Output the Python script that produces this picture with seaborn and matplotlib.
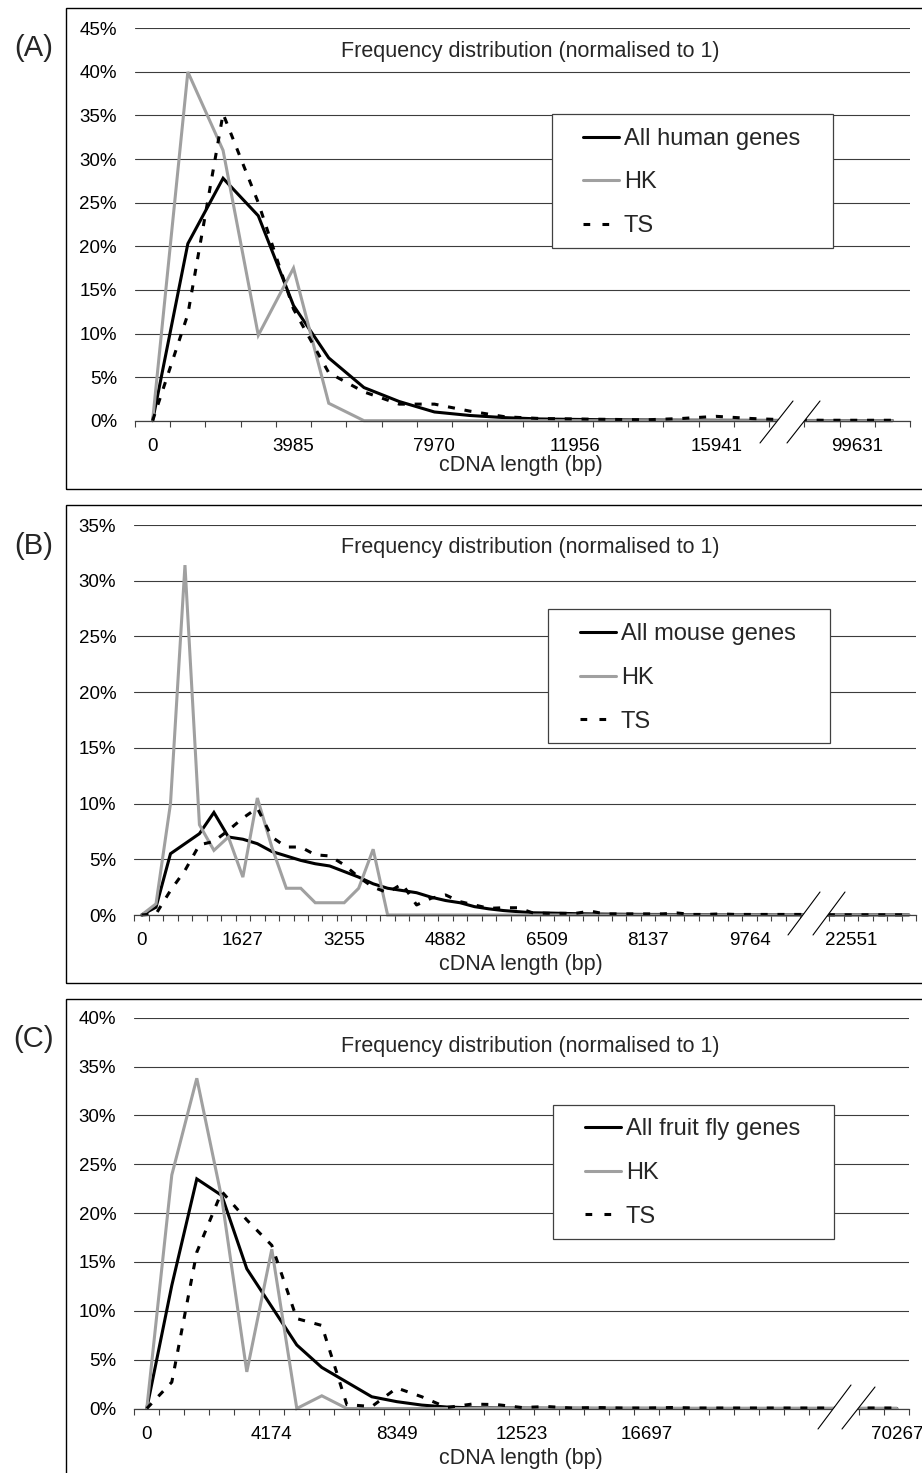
import matplotlib
matplotlib.use("Agg")
import matplotlib.pyplot as plt
import seaborn as sns
import pandas as pd
import numpy as np
from matplotlib.patches import Rectangle, Polygon
from matplotlib.lines import Line2D

# ---------------- data (percent of genes per cDNA-length bin) ----------------
A_tick_bins = [0, 4, 8, 12, 16, 20]
A_tick_labels = ["0", "3985", "7970", "11956", "15941", "99631"]
A_all = [0, 20.3, 27.8, 23.5, 13.2, 7.2, 3.8, 2.2, 1.0, 0.6, 0.35, 0.2, 0.15, 0.1,
         0.08, 0.06, 0.05, 0.04, 0.03, 0.02, 0.02, 0.01]
A_hk = [0, 40.0, 31.0, 9.8, 17.5, 2.0, 0, 0, 0, 0, 0, 0, 0, 0, 0, 0, 0, 0, 0, 0, 0, 0]
A_ts = [0, 12.2, 35.2, 25.0, 12.8, 5.5, 3.3, 1.9, 1.9, 1.1, 0.45, 0.25, 0.2, 0.15,
        0.1, 0.25, 0.5, 0.25, 0.1, 0.05, 0.05, 0.05]

B_tick_bins = [0, 7, 14, 21, 28, 35, 42, 49]
B_tick_labels = ["0", "1627", "3255", "4882", "6509", "8137", "9764", "22551"]
B_all = [0, 0.7, 5.5, 6.4, 7.3, 9.2, 7.0, 6.8, 6.4, 5.7, 5.3, 4.9, 4.6, 4.4, 3.9, 3.4,
         2.8, 2.4, 2.2, 2.0, 1.6, 1.3, 1.1, 0.75, 0.55, 0.4, 0.3, 0.2, 0.18, 0.15, 0.12,
         0.1, 0.08, 0.07, 0.06, 0.05, 0.05, 0.04, 0.03, 0.03, 0.02, 0.02, 0.02, 0.02,
         0.01, 0.01, 0.01, 0.01, 0.01, 0.01, 0.01, 0.01, 0.01, 0.01]
B_hk = [0, 1.0, 10.0, 31.4, 8.1, 5.8, 7.0, 3.4, 10.5, 6.1, 2.4, 2.4, 1.1, 1.1, 1.1, 2.4,
        5.9, 0, 0, 0, 0, 0, 0, 0, 0, 0, 0, 0, 0, 0, 0, 0, 0, 0, 0, 0, 0, 0, 0, 0, 0,
        0, 0, 0, 0, 0, 0, 0, 0, 0, 0, 0, 0, 0]
B_ts = [0, 0.1, 2.2, 4.0, 6.3, 6.6, 7.6, 8.7, 9.6, 7.0, 6.1, 6.1, 5.4, 5.3, 4.5, 3.4,
        2.5, 2.0, 2.8, 0.9, 1.5, 1.8, 1.2, 0.9, 0.6, 0.65, 0.65, 0.2, 0.15, 0.15, 0.15,
        0.35, 0.1, 0.1, 0.1, 0.1, 0.1, 0.18, 0.05, 0.05, 0.1, 0.05, 0.05, 0.05, 0.05,
        0.05, 0.05, 0.02, 0.02, 0.02, 0.02, 0.02, 0.02, 0.02]

C_tick_bins = [0, 5, 10, 15, 20, 30]
C_tick_labels = ["0", "4174", "8349", "12523", "16697", "70267"]
C_all = [0, 12.6, 23.5, 21.8, 14.3, 10.4, 6.5, 4.2, 2.7, 1.2, 0.7, 0.35, 0.15, 0.07,
         0.05, 0.04, 0.03, 0.03, 0.02, 0.02, 0.02, 0.01, 0.01, 0.01, 0.01, 0.01, 0.01,
         0.01, 0.01, 0.01, 0.01]
C_hk = [0, 23.9, 33.8, 21.5, 3.75, 16.3, 0, 1.3, 0, 0, 0, 0, 0, 0, 0, 0, 0, 0, 0, 0,
        0, 0, 0, 0, 0, 0, 0, 0, 0, 0, 0]
C_ts = [0, 2.7, 16.0, 22.2, 19.3, 16.7, 9.2, 8.5, 0.4, 0.2, 2.1, 1.2, 0.1, 0.45, 0.4,
        0.1, 0.2, 0.05, 0.1, 0.05, 0.05, 0.1, 0.05, 0.05, 0.05, 0.05, 0.05, 0.05, 0.05,
        0.05, 0.05]

A_names = ["All human genes", "HK", "TS"]
B_names = ["All mouse genes", "HK", "TS"]
C_names = ["All fruit fly genes", "HK", "TS"]

TITLE = "Frequency distribution (normalised to 1)"
XLABEL = "cDNA length (bp)"

# ---------------- style ----------------
sns.set_theme(style="white")
plt.rcParams["font.family"] = ["Liberation Sans", "DejaVu Sans"]

W, H = 922, 1473
fig = plt.figure(figsize=(W / 100, H / 100), dpi=100)


def fx(px):
    return px / W


def fy(py):
    return 1 - py / H


GRID = "#3c3c3c"
LW = 2.2
DASH = (2.3, 3.2)
LEG_DASH = (2.2, 4.0)
GRAY = "#a0a0a0"


def panel(letter, box, plot, all_v, hk_v, ts_v, names, tick_bins, tick_labels, ymax,
          legend_box, handle_x, legend_cy, title_base, xlabel_base, brk, label_cy):
    left, right, top, bottom = plot
    ax = fig.add_axes([fx(left), fy(bottom), (right - left) / W, (bottom - top) / H])
    n = len(all_v)
    df = pd.DataFrame({
        "bin": list(range(n)) + list(range(n)) + list(range(n)),
        "pct": list(all_v) + list(hk_v) + list(ts_v),
        "series": [names[0]] * n + [names[1]] * n + [names[2]] * n,
    })
    pal = {names[0]: "black", names[1]: GRAY, names[2]: "black"}
    dsh = {names[0]: "", names[1]: "", names[2]: DASH}
    sns.lineplot(data=df, x="bin", y="pct", hue="series", style="series",
                 hue_order=names, style_order=names, palette=pal, dashes=dsh,
                 linewidth=LW, errorbar=None, legend=False, ax=ax)
    for ln in ax.lines:
        ln.set_clip_on(False)
        ln.set_solid_joinstyle("miter")
        ln.set_dash_capstyle("butt")
    ax.set_xlim(-0.5, n - 0.5)
    ax.set_ylim(0, ymax)
    ax.set_xlabel("")
    ax.set_ylabel("")
    yt = list(range(0, ymax + 1, 5))
    ax.set_yticks(yt)
    ax.set_yticklabels([f"{v}%" for v in yt], fontsize=13.5)
    ax.yaxis.grid(True, color=GRID, lw=0.8)
    ax.xaxis.grid(False)
    ax.set_axisbelow(True)
    for s in ("left", "top", "right"):
        ax.spines[s].set_visible(False)
    ax.spines["bottom"].set_color("#404040")
    ax.spines["bottom"].set_linewidth(0.9)
    ax.tick_params(axis="y", length=0, pad=13, labelcolor="black")
    # category boundaries as tick marks, labels at category centres
    ax.set_xticks(np.arange(n + 1) - 0.5)
    ax.set_xticklabels([])
    ax.set_xticks(tick_bins, minor=True)
    ax.set_xticklabels(tick_labels, minor=True, fontsize=13.5)
    ax.tick_params(axis="x", which="major", length=4.3, width=0.8, color="#404040",
                   direction="out", bottom=True)
    ax.tick_params(axis="x", which="minor", length=0, pad=12.5, labelcolor="black",
                   bottom=True)

    # axis break
    (s1a, s1b), (s2a, s2b) = brk
    poly = Polygon([fig.transFigure.transform((fx(p[0]), fy(p[1]))) for p in (s1a, s1b, s2b, s2a)],
                   closed=True, facecolor="white", edgecolor="none", zorder=10,
                   transform=None, clip_on=False)
    ax.add_artist(poly)
    for a, b in ((s1a, s1b), (s2a, s2b)):
        ax.add_artist(Line2D([fx(a[0]), fx(b[0])], [fy(a[1]), fy(b[1])],
                             transform=fig.transFigure, color="black", lw=0.8,
                             zorder=11, clip_on=False))

    # legend box and legend
    x0, y0, x1, y1 = legend_box
    ax.add_patch(Rectangle((fx(x0), fy(y1)), (x1 - x0) / W, (y1 - y0) / H,
                           transform=fig.transFigure, facecolor="white",
                           edgecolor="#404040", lw=0.9, zorder=4, clip_on=False))
    handles = [Line2D([], [], color="black", lw=LW),
               Line2D([], [], color=GRAY, lw=LW),
               Line2D([], [], color="black", lw=LW, linestyle=(0, LEG_DASH),
                      dash_capstyle="butt")]
    ax.legend(handles, names, loc="center left",
              bbox_to_anchor=(fx(handle_x), fy(legend_cy)),
              bbox_transform=fig.transFigure, frameon=False, fontsize=17,
              handlelength=1.52, handletextpad=0.21, labelspacing=0.92,
              borderpad=0, borderaxespad=0)

    # texts and frame
    fig.text(fx(341), fy(title_base), TITLE, ha="left", va="baseline", fontsize=15.5)
    fig.text(fx(521), fy(xlabel_base), XLABEL, ha="center", va="baseline", fontsize=15.5)
    bx0, by0, bx1, by1 = box
    fig.add_artist(Rectangle((fx(bx0), fy(by1)), (bx1 - bx0) / W, (by1 - by0) / H,
                             transform=fig.transFigure, fill=False,
                             edgecolor="black", lw=1.0))
    fig.text(fx(33.5), fy(label_cy), letter, ha="center", va="center", fontsize=21)
    return ax


panel("(A)", (65.5, 8.3, 926, 489), (135, 910, 28.3, 420.7), A_all, A_hk, A_ts,
      A_names, A_tick_bins, A_tick_labels, 45, (552, 114, 833, 248), 583, 182.5,
      57.3, 471, (((760, 443), (793, 401)), ((787, 443), (820, 401))), 48)

panel("(B)", (65.5, 505, 926, 983), (134.3, 916, 525, 915), B_all, B_hk, B_ts,
      B_names, B_tick_bins, B_tick_labels, 35, (548, 609, 830, 743), 580, 678,
      552.7, 970, (((788, 935), (820, 892)), ((813, 935), (845, 892))), 546.5)

panel("(C)", (65.5, 999, 926, 1480), (134.3, 909.3, 1017.7, 1408.5), C_all, C_hk, C_ts,
      C_names, C_tick_bins, C_tick_labels, 40, (553, 1105, 834, 1239), 585, 1173,
      1052.3, 1464, (((818, 1429), (851, 1385)), ((842, 1429), (875, 1387))), 1039)

fig.savefig("out.png", dpi=100)
